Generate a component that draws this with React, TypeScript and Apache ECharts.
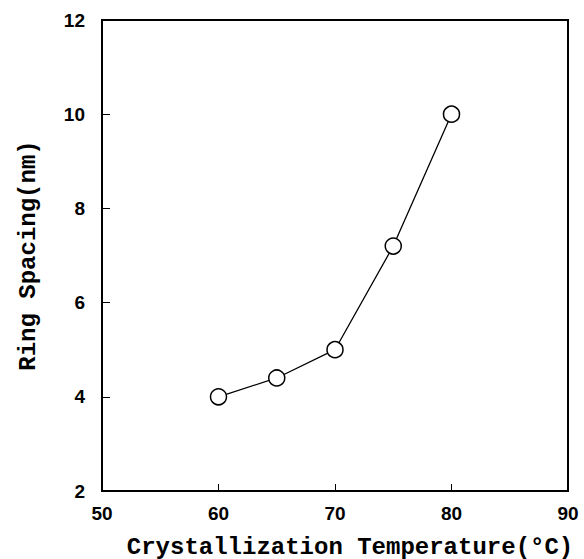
import React, { useEffect, useRef } from "react";
import * as echarts from "echarts";

const temperatures = [60, 65, 70, 75, 80];
const ringSpacing = [4.0, 4.4, 5.0, 7.2, 10.0];
const xTicks = [50, 60, 70, 80, 90];
const yTicks = [2, 4, 6, 8, 10, 12];
const xTitle = "Crystallization Temperature(\u00B0C)";
const yTitle = "Ring Spacing(nm)";

export default function App() {
  const ref = useRef<HTMLDivElement>(null);
  useEffect(() => {
    if (!ref.current) return;
    const chart = echarts.init(ref.current, undefined, { renderer: "svg" });
    const data = temperatures.map((t, i) => [t, ringSpacing[i]]);
    chart.setOption({
      animation: false,
      backgroundColor: "#fff",
      grid: {
        left: 102,
        top: 20,
        right: 16,
        bottom: 68,
        outerBoundsMode: "none",
        containLabel: false,
        show: true,
        borderColor: "#000",
        borderWidth: 2,
        backgroundColor: "transparent",
      },
      xAxis: {
        type: "value",
        min: xTicks[0],
        max: xTicks[xTicks.length - 1],
        interval: 10,
        axisLine: { show: true, lineStyle: { color: "#000", width: 2 } },
        axisTick: { show: true, inside: true, length: 7, lineStyle: { color: "#000", width: 1 } },
        axisLabel: {
          color: "#000",
          fontFamily: "Liberation Sans",
          fontWeight: "bold",
          fontSize: 19,
          margin: 13,
        },
        splitLine: { show: false },
        name: xTitle,
        nameLocation: "middle",
        nameGap: 44,
        nameTextStyle: {
          color: "#000",
          fontFamily: "Liberation Mono",
          fontWeight: "bold",
          fontSize: 24,
          padding: [0, 0, 0, 30],
        },
      },
      yAxis: {
        type: "value",
        min: yTicks[0],
        max: yTicks[yTicks.length - 1],
        interval: 2,
        axisLine: { show: true, lineStyle: { color: "#000", width: 2 } },
        axisTick: { show: true, inside: true, length: 8, lineStyle: { color: "#000", width: 1 } },
        axisLabel: {
          color: "#000",
          fontFamily: "Liberation Sans",
          fontWeight: "bold",
          fontSize: 19,
          margin: 17,
        },
        splitLine: { show: false },
        name: yTitle,
        nameLocation: "middle",
        nameGap: 62,
        nameTextStyle: {
          color: "#000",
          fontFamily: "Liberation Mono",
          fontWeight: "bold",
          fontSize: 24,
        },
      },
      series: [
        {
          type: "line",
          data,
          symbol: "circle",
          symbolSize: 16,
          lineStyle: { color: "#000", width: 1.3 },
          itemStyle: { color: "#fff", borderColor: "#000", borderWidth: 1.5 },
        },
      ],
    });
    return () => chart.dispose();
  }, []);
  return <div ref={ref} style={{ width: 584, height: 559, position: "absolute", left: 0, top: 0 }} />;
}
